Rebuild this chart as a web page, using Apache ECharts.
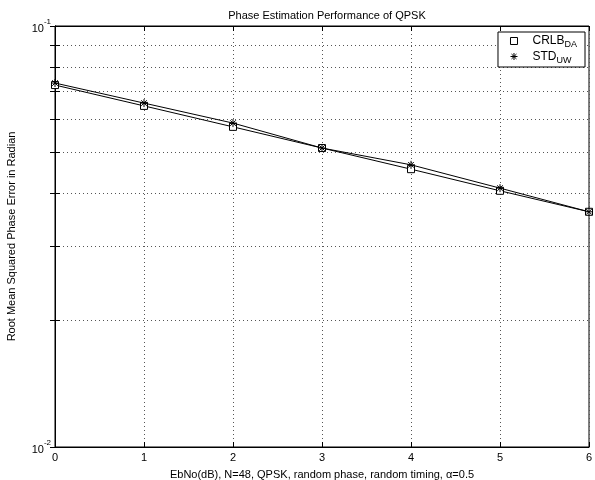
<!DOCTYPE html>
<html>
<head>
<meta charset="utf-8">
<script src="https://cdn.jsdelivr.net/npm/echarts@6/dist/echarts.min.js"></script>
<style>
  html, body { margin: 0; padding: 0; background: #fff; }
  #chart { width: 595px; height: 480px; }
</style>
</head>
<body>
<div id="chart"></div>
<script>
// EbNo in dB
const ebno = [0, 1, 2, 3, 4, 5, 6]
// phase error, radian
const crlbDA = [0.0724, 0.0646, 0.0576, 0.0513, 0.0457, 0.0406, 0.0362]
const stdUW = [0.0732, 0.0656, 0.0588, 0.0513, 0.0468, 0.0412, 0.0362]
// log axis ticks (decades + minor)
const yMajor = [0.01, 0.1]
const yMinor = [0.01, 0.02, 0.03, 0.04, 0.05, 0.06, 0.07, 0.08, 0.09, 0.1]

const font = "'Liberation Sans', Arial, sans-serif"
const asterisk = 'path://M5 0L5 10M0 5L10 5M1.5 1.5L8.5 8.5M8.5 1.5L1.5 8.5'

const chart = echarts.init(document.getElementById('chart'))

const yAxisBase = {
  type: 'log',
  logBase: 10,
  min: 0.01,
  max: 0.1,
  axisLine: { show: true, lineStyle: { color: '#000', width: 1 } },
  axisTick: { show: true, inside: true, length: 5, customValues: yMinor, lineStyle: { color: '#000' } },
  minorTick: { show: false },
  splitLine: { show: false }
}

chart.setOption({
  backgroundColor: '#fff',
  animation: false,
  textStyle: { fontFamily: font },
  title: {
    text: 'Phase Estimation Performance of QPSK',
    left: 322,
    top: 5,
    textAlign: 'center',
    textStyle: { fontFamily: font, fontSize: 11, fontWeight: 'normal', color: '#000' }
  },
  grid: {
    left: 55, right: 6, top: 26, bottom: 33,
    outerBoundsMode: 'none',
    containLabel: false,
    show: true, borderColor: '#000', borderWidth: 1
  },
  legend: {
    orient: 'vertical',
    right: 10,
    top: 32,
    padding: [3, 8, 2, 12],
    itemWidth: 7,
    itemHeight: 7,
    itemGap: 1,
    backgroundColor: '#fff',
    borderColor: '#000',
    borderWidth: 1,
    borderRadius: 0,
    data: [
      { name: 'CRLB_DA', icon: 'rect', itemStyle: { color: '#fff', borderColor: '#000', borderWidth: 1 } },
      { name: 'STD_UW', icon: asterisk, itemStyle: { color: 'transparent', borderColor: '#000', borderWidth: 1 } }
    ],
    formatter (name) {
      const p = name.split('_')
      return '{n|' + p[0] + '}{s|' + p[1] + '}'
    },
    textStyle: {
      padding: [0, 0, 0, 10],
      rich: {
        n: { fontFamily: font, fontSize: 12, color: '#000', lineHeight: 16 },
        s: { fontFamily: font, fontSize: 9, color: '#000', verticalAlign: 'bottom', padding: [8, 0, 0, 0] }
      }
    }
  },
  xAxis: [{
    type: 'value',
    min: 0,
    max: 6,
    interval: 1,
    name: 'EbNo(dB), N=48, QPSK, random phase, random timing, α=0.5',
    nameLocation: 'middle',
    nameGap: 22,
    nameTextStyle: { fontFamily: font, fontSize: 11, color: '#000' },
    axisLine: { show: true, lineStyle: { color: '#000', width: 1 } },
    axisTick: { show: true, inside: true, length: 5, lineStyle: { color: '#000' } },
    axisLabel: { fontFamily: font, fontSize: 11, color: '#000', margin: 5 },
    splitLine: { show: true, lineStyle: { color: '#555', type: [1, 3], width: 1 } }
  }, {
    type: 'value',
    position: 'top',
    min: 0,
    max: 6,
    interval: 1,
    axisLine: { show: true, lineStyle: { color: '#000', width: 1 } },
    axisTick: { show: true, inside: true, length: 5, lineStyle: { color: '#000' } },
    axisLabel: { show: false },
    splitLine: { show: false }
  }],
  yAxis: [Object.assign({}, yAxisBase, {
    position: 'left',
    name: 'Root Mean Squared Phase Error in Radian',
    nameLocation: 'middle',
    nameGap: 38,
    nameTextStyle: { fontFamily: font, fontSize: 11, color: '#000' },
    axisLabel: {
      customValues: yMajor,
      margin: 4,
      formatter (v) {
        return '{b|10}{s|' + Math.round(Math.log10(v)) + '}'
      },
      rich: {
        b: { fontFamily: font, fontSize: 11, color: '#000', padding: [6, 0, 0, 0] },
        s: { fontFamily: font, fontSize: 8, color: '#000', verticalAlign: 'top' }
      }
    },
    splitLine: { show: true, lineStyle: { color: '#555', type: [1, 3], width: 1 } }
  }), Object.assign({}, yAxisBase, {
    position: 'right',
    axisLabel: { show: false }
  })],
  series: [{
    name: 'CRLB_DA',
    type: 'line',
    data: ebno.map((x, i) => [x, crlbDA[i]]),
    symbol: 'rect',
    symbolSize: 7,
    itemStyle: { color: '#fff', borderColor: '#000', borderWidth: 1 },
    lineStyle: { color: '#000', width: 1 },
    z: 3
  }, {
    name: 'STD_UW',
    type: 'line',
    data: ebno.map((x, i) => [x, stdUW[i]]),
    symbol: asterisk,
    symbolSize: 8,
    itemStyle: { color: 'transparent', borderColor: '#000', borderWidth: 1 },
    lineStyle: { color: '#000', width: 1 },
    z: 4
  }]
})
</script>
</body>
</html>
